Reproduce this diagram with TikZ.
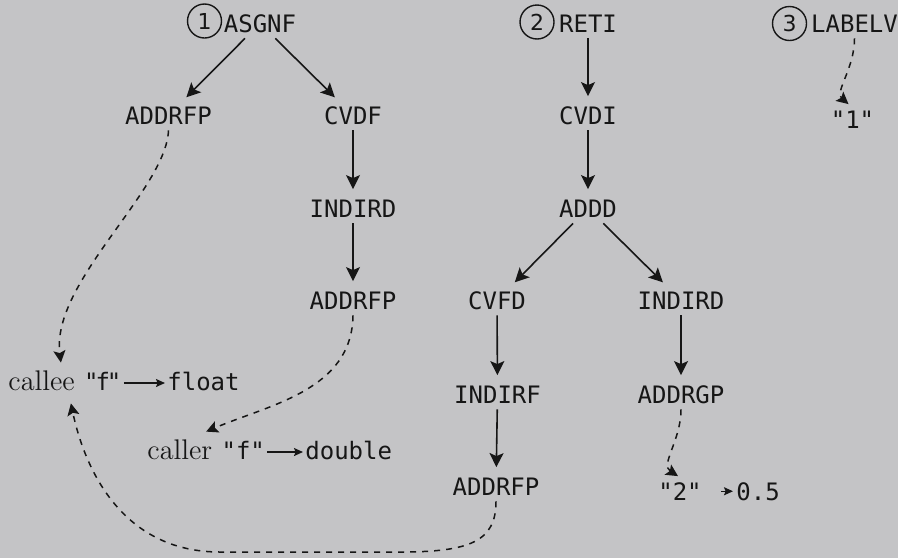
\documentclass[tikz,border=0pt]{standalone}
\usepackage{fontspec}
\newfontfamily\mono{DejaVu Sans Mono}
\newfontfamily\numfont{DejaVu Sans}
\usetikzlibrary{arrows.meta}
\definecolor{bg}{RGB}{196,196,198}
\definecolor{ink}{RGB}{22,22,22}
\newcommand\monotxt[1]{{\fontsize{12}{14}\mono #1}}
\begin{document}
\begin{tikzpicture}[x=0.5pt,y=-0.5pt,
  op/.style={font=\fontsize{12}{14}\mono, text=ink, text height=8.75pt, text depth=0pt, inner xsep=1.5pt, inner ysep=3pt, anchor=base},
  opw/.style={op, anchor=base west},
  num/.style={draw=ink, circle, line width=0.7pt, minimum size=17pt, inner sep=0pt, font=\fontsize{11}{13}\numfont, text=ink},
  lbl/.style={font=\fontsize{14.2}{17}\selectfont, text=ink, text height=9pt, text depth=2pt, inner xsep=1pt, inner ysep=4.5pt, anchor=base west},
  tp/.style={font=\fontsize{12}{14}\mono, text=ink, text height=9pt, text depth=2pt, inner xsep=1pt, inner ysep=4.5pt, anchor=base west},
  solidarrow/.style={draw=ink, line width=0.8pt, -{Stealth[length=7pt,width=7pt,inset=1.5pt]}, shorten >=2pt},
  dlink/.style={draw=ink, line width=0.75pt, dash pattern=on 3pt off 3pt, -{Stealth[length=6pt,width=6pt,inset=1.2pt]}},
  tinyarrow/.style={draw=ink, line width=0.75pt, -{Stealth[length=4.5pt,width=4pt,inset=0.8pt]}}
]
\fill[bg] (0,0) rectangle (898,558);
\useasboundingbox (0,0) rectangle (898,558);

% tree 1
\node[num] (c1) at (204.5,21) {1};
\node[op] (asgnf) at (260,32) {ASGNF};
\node[op] (addrfpA) at (168.5,124) {ADDRFP};
\node[op] (cvdf) at (353,124) {CVDF};
\node[op] (indirdA) at (353,217) {INDIRD};
\node[op] (addrfpB) at (353,309) {ADDRFP};

% tree 2
\node[num] (c2) at (537,22) {2};
\node[op] (reti) at (588,32) {RETI};
\node[op] (cvdi) at (588,124) {CVDI};
\node[op] (addd) at (588,217) {ADDD};
\node[op] (cvfd) at (497,309) {CVFD};
\node[op] (indirdB) at (681,309) {INDIRD};
\node[op] (indirf) at (497.5,403) {INDIRF};
\node[op] (addrgp) at (681,403) {ADDRGP};
\node[op] (addrfpC) at (496,495) {ADDRFP};
\node[op] (two) at (680,500) {"2"};
\node[opw] (half) at (733,500) {0.5};

% tree 3
\node[num] (c3) at (789.5,23.5) {3};
\node[op] (labelv) at (854.5,32) {LABELV};
\node[op] (one) at (852.5,128) {"1"};

% callee / caller
\node[lbl] (calleeN) at (6,390) {callee \monotxt{"\kern-1.5pt f\kern-1.5pt"}};
\node[tp] (float) at (165,390) {float};
\node[lbl] (callerN) at (145,459) {caller \monotxt{"f"}};
\node[tp] (double) at (303,459) {double};

% solid edges
\draw[solidarrow] (asgnf) -- (addrfpA);
\draw[solidarrow] (asgnf) -- (cvdf);
\draw[solidarrow] (cvdf) -- (indirdA);
\draw[solidarrow] (indirdA) -- (addrfpB);
\draw[solidarrow] (reti) -- (cvdi);
\draw[solidarrow] (cvdi) -- (addd);
\draw[solidarrow] (addd) -- (cvfd);
\draw[solidarrow] (addd) -- (indirdB);
\draw[solidarrow] (cvfd) -- (indirf);
\draw[solidarrow] (indirdB) -- (addrgp);
\draw[solidarrow] (indirf) -- (addrfpC);

% small arrows
\draw[tinyarrow] (calleeN.east) -- (float.west);
\draw[tinyarrow] (callerN.east) -- (double.west);
\draw[tinyarrow, shorten <=8pt] (two) -- (half);

% dashed links
\coordinate (br) at (400,552);
\coordinate (bl) at (220,552);
\draw[dlink] (addrfpA.south) .. controls +(-2.5,60) and +(-10,-80) .. ([xshift=-2pt]calleeN.north);
\draw[dlink] (addrfpB.south) .. controls +(-1,75) and +(63,-27) .. (callerN.north);
\draw[dlink] (addrfpC.south) .. controls +(0,40) and +(70,0) .. (br) -- (bl) .. controls +(-100,0) and +(13,62) .. ([xshift=3pt]calleeN.south);
\draw[dlink] (addrgp.south) .. controls +(0,31) and +(-18,-11.5) .. ([xshift=-1pt]two.north);
\draw[dlink] (labelv.south) .. controls +(0,30) and +(-14,-12) .. ([xshift=-2pt]one.north);
\end{tikzpicture}
\end{document}
